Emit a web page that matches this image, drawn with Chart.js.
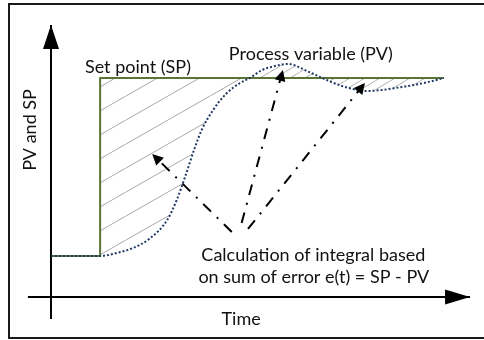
<!DOCTYPE html>
<html>
<head>
<meta charset="utf-8">
<script src="https://cdn.jsdelivr.net/npm/chart.js@4.4.1/dist/chart.umd.min.js"></script>
<style>
  html, body { margin:0; padding:0; background:#fff; }
  #wrap { position:relative; width:484px; height:340px; overflow:hidden; }
  #frame { position:absolute; left:8px; top:3px; width:490px; height:332px; border:2px solid #1a1a1a; }
  #wrap canvas { position:absolute; left:0; top:0; }
</style>
</head>
<body>
<div id="wrap">
  <div id="frame"></div>
  <canvas id="grafico" width="484" height="340"></canvas>
</div>
<script>
// === Dados ===
// tempo: t=0 no eixo vertical, degrau do set point em t=1
var spTime  = [0, 1, 1, 8];
var spValue = [0, 0, 1, 1];
var spHigh = 1;

// variável de processo
var pvTime  = [0, 1.0, 1.34, 1.67, 2.02, 2.36, 2.56, 2.73, 2.93, 3.07, 3.30, 3.56, 3.85, 4.05, 4.30, 4.50, 4.82, 5.25, 5.52, 5.92, 6.43, 7.14, 7.69, 8.0];
var pvValue = [0, 0, 0.017, 0.045, 0.10, 0.20, 0.315, 0.445, 0.61, 0.71, 0.82, 0.91, 0.972, 1.0, 1.045, 1.063, 1.079, 1.034, 1.0, 0.955, 0.927, 0.949, 0.978, 1.0];

// setas traço-ponto: origem comum perto do texto, pontas nas áreas de erro
var arrowFromT = [3.68, 3.88, 4.01];
var arrowFromV = [0.135, 0.185, 0.152];
var arrowToT   = [2.06, 4.72, 6.39];
var arrowToV   = [0.573, 1.045, 0.972];

// eixos do diagrama
var axisXT = [-0.47, 8.53];
var axisXV = -0.23;
var axisYT = 0;
var axisYV = [-0.354, 1.298];

// textos
var labels = [
  { text: 'Set point (SP)', t: 1.77, v: 1.028 },
  { text: 'Process variable (PV)', t: 5.29, v: 1.101 },
  { text: 'Calculation of integral based', t: 5.34, v: -0.028 },
  { text: 'on sum of error e(t) = SP - PV', t: 5.35, v: -0.152 },
  { text: 'Time', t: 3.87, v: -0.388 },
  { text: 'PV and SP', t: -0.43, v: 0.708, rot: true }
];

var FONT = '18px Lato';

function pts(ts, vs) {
  return ts.map(function(t, i) { return { x: t, y: vs[i] }; });
}

// hachura
function hachura(w, h, cor) {
  var c = document.createElement('canvas');
  c.width = w; c.height = h;
  var g = c.getContext('2d');
  g.strokeStyle = cor;
  g.lineWidth = 1;
  g.beginPath();
  for (var k = -1; k <= 1; k++) {
    g.moveTo(k * w, h);
    g.lineTo(k * w + w, 0);
  }
  g.stroke();
  return g.createPattern(c, 'repeat');
}

// divide a PV em subida (até cruzar o SP) e oscilação
var pvPts = pts(pvTime, pvValue);
var iCross = pvValue.findIndex(function(v) { return v >= spHigh; });
var risePts = pvPts.filter(function(p, i) { return p.x >= spTime[1] && i <= iCross; });
var oscPts = pvPts.filter(function(p, i) { return i >= iCross; });

var dashDot = [11, 8, 2, 8];
var arrowSets = arrowFromT.map(function(t, i) {
  return {
    data: [{ x: t, y: arrowFromV[i] }, { x: arrowToT[i], y: arrowToV[i] }],
    borderColor: '#000', borderWidth: 2, borderDash: dashDot,
    pointRadius: 0, fill: false, arrow: { len: 11, half: 5.5 }
  };
});

var setas = {
  id: 'setas',
  afterDatasetsDraw: function(chart) {
    var ctx = chart.ctx;
    chart.data.datasets.forEach(function(ds, i) {
      if (!ds.arrow) return;
      var p = chart.getDatasetMeta(i).data;
      var a = p[p.length - 2], b = p[p.length - 1];
      var ang = Math.atan2(b.y - a.y, b.x - a.x);
      ctx.save();
      ctx.translate(b.x, b.y);
      ctx.rotate(ang);
      ctx.fillStyle = ds.borderColor;
      ctx.beginPath();
      ctx.moveTo(0, 0);
      ctx.lineTo(-ds.arrow.len, ds.arrow.half);
      ctx.lineTo(-ds.arrow.len, -ds.arrow.half);
      ctx.closePath();
      ctx.fill();
      ctx.restore();
    });
  }
};

var textos = {
  id: 'textos',
  afterDraw: function(chart) {
    var ctx = chart.ctx, sx = chart.scales.x, sy = chart.scales.y;
    ctx.save();
    ctx.font = FONT;
    ctx.fillStyle = '#111';
    labels.forEach(function(l) {
      var x = sx.getPixelForValue(l.t), y = sy.getPixelForValue(l.v);
      ctx.save();
      ctx.translate(x, y);
      if (l.rot) {
        ctx.rotate(-Math.PI / 2);
        ctx.textBaseline = 'middle';
      } else {
        ctx.textBaseline = 'alphabetic';
      }
      ctx.textAlign = 'center';
      ctx.fillText(l.text, 0, 0);
      ctx.restore();
    });
    ctx.restore();
  }
};

var ctxG = document.getElementById('grafico');
new Chart(ctxG, {
  type: 'line',
  data: {
    datasets: arrowSets.concat([
      {
        label: 'PV',
        data: pvPts,
        borderColor: '#1f3864', borderWidth: 2, borderDash: [2, 2],
        cubicInterpolationMode: 'monotone', pointRadius: 0, fill: false
      },
      {
        label: 'SP',
        data: pts(spTime, spValue),
        borderColor: '#5a7436', borderWidth: 2,
        pointRadius: 0, fill: false
      },
      {
        data: [{ x: axisXT[0], y: axisXV }, { x: axisXT[1], y: axisXV }],
        borderColor: '#000', borderWidth: 2, pointRadius: 0, fill: false,
        arrow: { len: 25, half: 7.5 }
      },
      {
        data: [{ x: axisYT, y: axisYV[0] }, { x: axisYT, y: axisYV[1] }],
        borderColor: '#000', borderWidth: 2, pointRadius: 0, fill: false,
        arrow: { len: 24, half: 8 }
      },
      {
        data: risePts,
        borderWidth: 0, pointRadius: 0, cubicInterpolationMode: 'monotone',
        fill: { value: spHigh }, backgroundColor: hachura(42, 24, '#a8a8a8')
      },
      {
        data: oscPts,
        borderWidth: 0, pointRadius: 0, cubicInterpolationMode: 'monotone',
        fill: { value: spHigh }, backgroundColor: hachura(15, 9, '#b0b0b0')
      }
    ])
  },
  options: {
    responsive: false,
    animation: false,
    layout: { padding: 0 },
    parsing: false,
    plugins: { legend: { display: false }, tooltip: { enabled: false } },
    scales: {
      x: { type: 'linear', display: false, min: -1.038, max: 8.814 },
      y: { type: 'linear', display: false, min: -0.472, max: 1.438 }
    }
  },
  plugins: [setas, textos]
});
</script>
</body>
</html>
